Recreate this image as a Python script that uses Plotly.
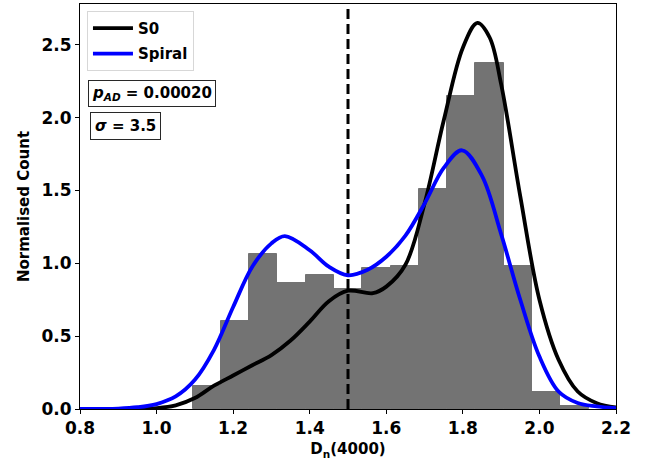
import plotly.graph_objects as go

# Histogram of D_n(4000): bin edges and normalised heights
bin_start = 1.094
bin_width = 0.0739
hist_heights = [0.16, 0.605, 1.064, 0.863, 0.922, 0.824, 0.966, 0.984,
                1.507, 2.148, 2.372, 0.984, 0.118, 0.018]

# Kernel density curve of the S0 sample
s0_x = [0.80, 0.90, 0.95, 1.00, 1.05, 1.10, 1.15, 1.20, 1.25, 1.30, 1.35, 1.40,
        1.45, 1.50, 1.565, 1.60, 1.65, 1.70, 1.75, 1.80, 1.838, 1.87, 1.90, 1.95,
        2.00, 2.05, 2.10, 2.15, 2.20]
s0_y = [0.0, 0.0, 0.001, 0.006, 0.025, 0.075, 0.16, 0.23, 0.30, 0.37, 0.47, 0.60,
        0.74, 0.812, 0.795, 0.84, 0.99, 1.41, 1.98, 2.48, 2.65, 2.55, 2.23, 1.46,
        0.75, 0.338, 0.12, 0.04, 0.01]

# Kernel density curve of the Spiral sample
spiral_x = [0.80, 0.85, 0.90, 0.95, 1.00, 1.05, 1.10, 1.15, 1.20, 1.25, 1.30, 1.335,
            1.40, 1.45, 1.50, 1.55, 1.60, 1.65, 1.70, 1.75, 1.798, 1.85, 1.90, 1.95,
            2.00, 2.05, 2.10, 2.15, 2.20]
spiral_y = [0.0, 0.001, 0.003, 0.012, 0.034, 0.086, 0.20, 0.406, 0.70, 0.977, 1.137, 1.187,
            1.09, 0.977, 0.918, 0.954, 1.045, 1.19, 1.41, 1.655, 1.776, 1.60, 1.20, 0.75,
            0.36, 0.12, 0.041, 0.018, 0.005]

split_value = 1.5
y_top = 2.78

x_ticks = [0.8, 1.0, 1.2, 1.4, 1.6, 1.8, 2.0, 2.2]
y_ticks = [0.0, 0.5, 1.0, 1.5, 2.0, 2.5]

centers = [bin_start + (i + 0.5) * bin_width for i in range(len(hist_heights))]
bar_grey = "rgb(115,115,115)"

fig = go.Figure()
fig.add_trace(go.Bar(
    x=centers, y=hist_heights, width=[bin_width] * len(hist_heights),
    marker=dict(color=bar_grey, line=dict(color=bar_grey, width=1)),
    showlegend=False, hoverinfo="skip"))
fig.add_trace(go.Scatter(
    x=[split_value, split_value], y=[0, y_top], mode="lines",
    line=dict(color="black", width=3, dash="10px,5px"),
    showlegend=False, hoverinfo="skip"))
fig.add_trace(go.Scatter(
    x=s0_x, y=s0_y, mode="lines", name="S0", legendgroup="s0",
    line=dict(color="black", width=3.8, shape="spline", smoothing=1.0)))
fig.add_trace(go.Scatter(
    x=spiral_x, y=spiral_y, mode="lines", name="Spiral", legendgroup="spiral",
    line=dict(color="blue", width=3.8, shape="spline", smoothing=1.0)))

font_family = "DejaVu Sans"
axis_common = dict(
    showline=True, linecolor="black", linewidth=1, mirror=True,
    ticks="outside", ticklen=4, tickwidth=1, tickcolor="black",
    showgrid=False, zeroline=False,
    tickfont=dict(family=font_family, size=17, color="black", weight="bold"),
)

fig.update_layout(
    width=647, height=464,
    margin=dict(l=80, r=31, t=4, b=55),
    plot_bgcolor="white", paper_bgcolor="white",
    bargap=0,
    font=dict(family=font_family, color="black"),
    xaxis=dict(range=[0.8, 2.2], tickvals=x_ticks, ticktext=[f"{v:.1f}" for v in x_ticks],
               title=dict(text="D<sub>n</sub>(4000)", standoff=6,
                          font=dict(family=font_family, size=15, color="black", weight="bold")),
               **axis_common),
    yaxis=dict(range=[0, y_top], tickvals=y_ticks, ticktext=[f"{v:.1f}" for v in y_ticks],
               title=dict(text="Normalised Count", standoff=8,
                          font=dict(family=font_family, size=15, color="black", weight="bold")),
               **axis_common),
    legend=dict(x=0.013, y=0.983, xanchor="left", yanchor="top",
                bgcolor="white", bordercolor="rgb(215,215,215)", borderwidth=1,
                font=dict(family=font_family, size=15, color="black", weight="bold"),
                tracegroupgap=3, itemwidth=40),
    annotations=[
        dict(xref="paper", yref="paper", x=0.0149, y=0.8123, xanchor="left", yanchor="top",
             text="<b><i>p</i><sub><i>AD</i></sub> = 0.00020</b>", showarrow=False,
             font=dict(family=font_family, size=15, color="black"),
             bgcolor="white", bordercolor="rgb(40,40,40)", borderwidth=1, borderpad=3),
        dict(xref="paper", yref="paper", x=0.0187, y=0.7333, xanchor="left", yanchor="top",
             text="<b><i>σ</i> = 3.5</b>", showarrow=False,
             font=dict(family=font_family, size=15, color="black"),
             bgcolor="white", bordercolor="rgb(40,40,40)", borderwidth=1, borderpad=4),
    ],
)

fig.write_html("out.html")
